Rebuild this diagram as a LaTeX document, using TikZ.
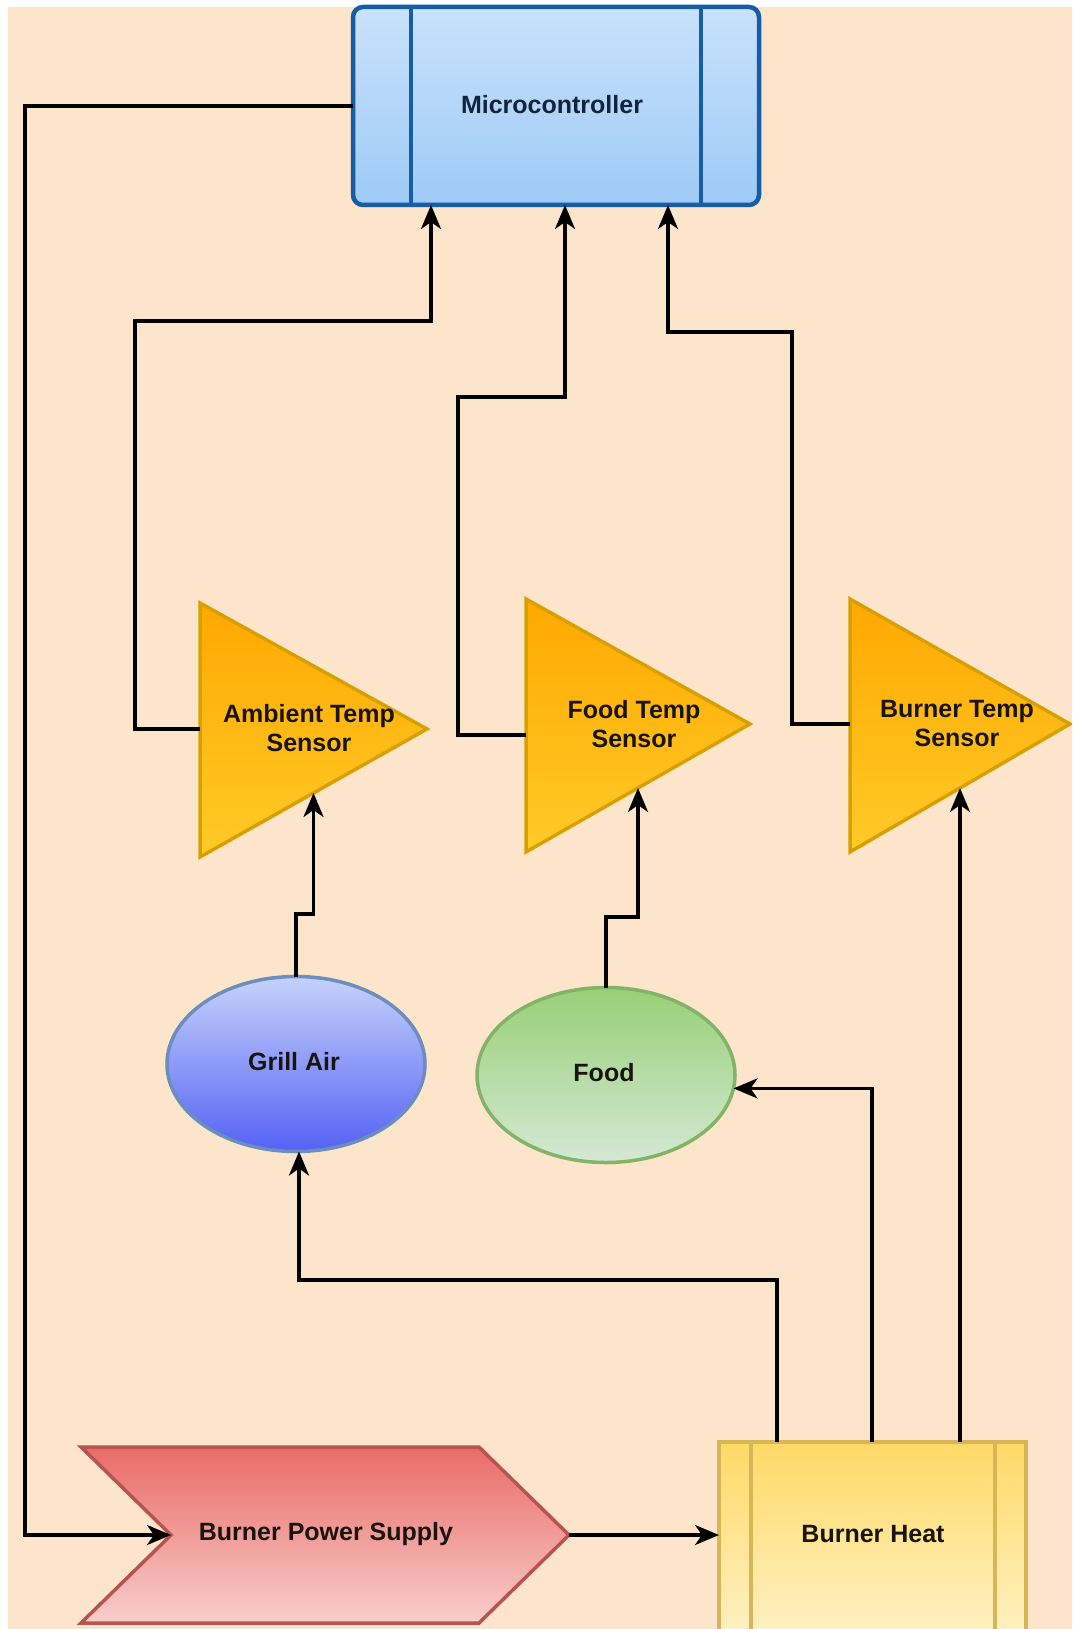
\documentclass[tikz,border=0pt]{standalone}
\usepackage{fontspec}
\setmainfont{Liberation Sans}
\usetikzlibrary{shapes.geometric,arrows.meta,calc}
\definecolor{bg}{RGB}{252,229,203}
\definecolor{mctop}{RGB}{200,226,252}
\definecolor{mcbot}{RGB}{158,202,246}
\definecolor{mcline}{RGB}{22,92,166}
\definecolor{tritop}{RGB}{255,168,0}
\definecolor{tribot}{RGB}{255,202,40}
\definecolor{triline}{RGB}{215,160,0}
\definecolor{airtop}{RGB}{198,210,250}
\definecolor{airbot}{RGB}{84,98,245}
\definecolor{airline}{RGB}{108,142,191}
\definecolor{foodtop}{RGB}{151,208,119}
\definecolor{foodbot}{RGB}{213,232,212}
\definecolor{foodline}{RGB}{130,179,102}
\definecolor{bpstop}{RGB}{234,107,102}
\definecolor{bpsbot}{RGB}{248,206,204}
\definecolor{bpsline}{RGB}{184,84,80}
\definecolor{bhtop}{RGB}{255,217,102}
\definecolor{bhbot}{RGB}{255,244,208}
\definecolor{bhline}{RGB}{214,182,86}
\definecolor{txt}{RGB}{25,20,15}
\definecolor{mctxt}{RGB}{20,35,60}
\begin{document}
\begin{tikzpicture}[x=1pt,y=-1pt,
  lbl/.style={font=\fontsize{25}{29}\selectfont\bfseries, text=txt, align=center, inner sep=0pt},
  conn/.style={line width=3.5pt, draw=black, -{Stealth[length=24pt,width=20pt,inset=7pt]}},
  mcbox/.style={draw=mcline, line width=4.5pt, rounded corners=10pt, top color=mctop, bottom color=mcbot, inner sep=0pt, outer sep=0pt},
  tri/.style={draw=triline, line width=3.5pt, line join=miter, top color=tritop, bottom color=tribot},
  airbox/.style={ellipse, draw=airline, line width=3.5pt, top color=airtop, bottom color=airbot, inner sep=0pt, outer sep=0pt},
  foodbox/.style={ellipse, draw=foodline, line width=3.5pt, top color=foodtop, bottom color=foodbot, inner sep=0pt, outer sep=0pt},
  bpsshape/.style={draw=bpsline, line width=3.5pt, top color=bpstop, bottom color=bpsbot},
  bhbox/.style={draw=bhline, line width=3.5pt, top color=bhtop, bottom color=bhbot, inner sep=0pt, outer sep=0pt},
  innerln/.style={line width=3.5pt}
]
\useasboundingbox (0,0) rectangle (1072,1629);
\fill[white] (0,0) rectangle (1072,1629);
\fill[bg] (8,7) rectangle (1072,1629);
\clip (0,0) rectangle (1072,1629);

% Microcontroller
\node[mcbox, minimum width=406pt, minimum height=198pt] (mc) at (556,106) {};
\draw[draw=mcline, innerln] ($(mc.north west)+(58,0)$) -- ($(mc.south west)+(58,0)$);
\draw[draw=mcline, innerln] ($(mc.north east)+(-58,0)$) -- ($(mc.south east)+(-58,0)$);
\node[lbl, text=mctxt] (mctext) at (552,105) {Microcontroller};
\coordinate (mc-in1) at (431,0 |- mc.south);
\coordinate (mc-in2) at (565,0 |- mc.south);
\coordinate (mc-in3) at (668,0 |- mc.south);

% Sensors
\path[tri] (200,603) -- (427,729) coordinate (ats-a) -- (200,857) coordinate (ats-bl) -- cycle;
\coordinate (ats-l) at (200,729);
\coordinate (ats-b) at ($(ats-a)!0.5!(ats-bl)$);
\node[lbl] (ats) at (309,728) {Ambient Temp\\Sensor};

\path[tri] (526,599) -- (750,724) coordinate (fts-a) -- (526,852) coordinate (fts-bl) -- cycle;
\coordinate (fts-l) at (526,735);
\coordinate (fts-b) at ($(fts-a)!0.5!(fts-bl)$);
\node[lbl] (fts) at (634,724) {Food Temp\\Sensor};

\path[tri] (850,599) -- (1070,724) coordinate (bts-a) -- (850,852) coordinate (bts-bl) -- cycle;
\coordinate (bts-l) at (850,724);
\coordinate (bts-b) at ($(bts-a)!0.5!(bts-bl)$);
\node[lbl] (bts) at (957,724) {Burner Temp\\Sensor};

% Ellipses
\node[airbox, minimum width=258pt, minimum height=175pt] (air) at (296,1064) {};
\node[lbl] (airtext) at (294,1062) {Grill Air};
\node[foodbox, minimum width=258pt, minimum height=175pt] (food) at (606,1075) {};
\node[lbl] (foodtext) at (604,1073) {Food};

% Burner power supply
\path[bpsshape] (81,1447) -- (479,1447) -- (569,1535) coordinate (bps-tip) -- (479,1623) -- (81,1623) -- (171,1535) coordinate (bps-notch) -- cycle;
\node[lbl] (bps) at (326,1534) {Burner Power Supply};

% Burner heat
\node[bhbox, anchor=north west, minimum width=307pt, minimum height=220pt] (bh) at (719,1442) {};
\draw[draw=bhline, innerln] ($(bh.north west)+(32,0)$) -- ($(bh.south west)+(32,0)$);
\draw[draw=bhline, innerln] ($(bh.north east)+(-31,0)$) -- ($(bh.south east)+(-31,0)$);
\node[lbl] (bhtext) at (873,1534) {Burner Heat};
\coordinate (bh-t1) at (777,0 |- bh.north);
\coordinate (bh-t2) at (872,0 |- bh.north);
\coordinate (bh-t3) at (bts-b |- bh.north);

% Connectors
\draw[conn] (mc.west) -- (25,106) |- (bps-notch);
\draw[conn] (ats-l) -- (135,729) |- (431,321) -- (mc-in1);
\draw[conn] (fts-l) -- (458,735) |- (565,397) -- (mc-in2);
\draw[conn] (bts-l) -- (792,724) |- (668,332) -- (mc-in3);
\draw[conn] (air.north) -- (296,914) -| (ats-b);
\draw[conn] (food.north) -- (606,917) -| (fts-b);
\draw[conn] (bh-t1) |- (299,1280) -- (299,0 |- air.south);
\draw[conn] (bh-t2) |- (food.-6);
\draw[conn] (bh-t3) -- (bts-b);
\draw[conn] (bps-tip) -- (bh.west |- bps-tip);
\end{tikzpicture}
\end{document}
